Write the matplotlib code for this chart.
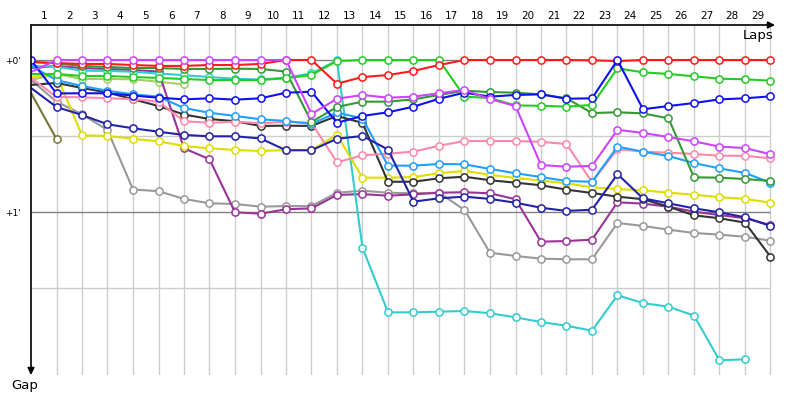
import numpy as np
import matplotlib
matplotlib.use("Agg")
import matplotlib.pyplot as plt

nan = np.nan
laps = list(range(0, 30))
lap_labels = [str(i) for i in range(1, 30)]
ytick_vals = [0, 1]
ytick_labels = ["+0'", "+1'"]

red = [0.013,0.020,0.026,0.026,0.033,0.039,0.039,0.033,0.033,0.026,0.0,0.0,0.156,0.112,0.099,0.072,0.033,0.0,0.0,0.0,0.0,0.0,0.002,0.007,0.0,0.0,0.0,0.0,0.0,0.0]
violet = [0.079,0,0,0,0,0,0,0,0,0,0,0.355,0.255,0.230,0.248,0.241,0.219,0.197,0.257,0.303,0.691,0.702,0.697,0.459,0.480,0.507,0.535,0.570,0.579,0.620]
green = [0.092,0.092,0.105,0.105,0.112,0.118,0.125,0.132,0.132,0.132,0.120,0.099,0.007,0.0,0.0,0.0,0.0,0.241,0.250,0.299,0.301,0.307,0.296,0.055,0.081,0.092,0.107,0.123,0.127,0.136]
darkgreen = [0.013,0.022,0.039,0.046,0.053,0.053,0.059,0.059,0.057,0.059,0.076,0.408,0.309,0.274,0.274,0.259,0.230,0.202,0.211,0.215,0.226,0.252,0.349,0.344,0.351,0.384,0.772,0.774,0.783,0.796]
blue = [0.0,0.220,0.219,0.219,0.234,0.248,0.259,0.252,0.261,0.252,0.215,0.209,0.413,0.368,0.344,0.307,0.255,0.215,0.241,0.230,0.226,0.255,0.252,0.0,0.324,0.303,0.283,0.259,0.252,0.239]
navy = [0.184,0.309,0.362,0.423,0.449,0.472,0.493,0.502,0.502,0.516,0.594,0.594,0.518,0.500,0.589,0.932,0.910,0.899,0.914,0.939,0.972,0.993,0.985,0.751,0.910,0.943,0.976,1.002,1.035,1.092]
cyan = [0.039,0.044,0.070,0.072,0.077,0.089,0.100,0.112,0.124,0.128,0.116,0.088,0.003,1.235,1.660,1.660,1.656,1.651,1.666,1.693,1.724,1.748,1.781,1.548,1.599,1.623,1.682,1.976,1.969,nan]
skyblue = [0.039,0.132,0.171,0.202,0.226,0.241,0.316,0.347,0.368,0.390,0.401,0.421,0.345,0.385,0.695,0.695,0.684,0.686,0.717,0.745,0.770,0.796,0.801,0.570,0.603,0.632,0.678,0.713,0.743,0.807]
pink = [0.118,0.243,0.245,0.252,0.257,0.274,0.403,0.413,0.406,0.416,0.406,0.414,0.673,0.627,0.616,0.603,0.564,0.533,0.533,0.533,0.538,0.553,0.803,0.586,0.603,0.610,0.618,0.630,0.630,0.647]
black = [0.164,0.151,0.184,0.214,0.258,0.303,0.359,0.388,0.403,0.434,0.432,0.434,0.368,0.414,0.801,0.801,0.778,0.768,0.791,0.807,0.824,0.853,0.875,0.899,0.916,0.965,1.022,1.041,1.070,1.294]
yellow = [0.112,0.099,0.495,0.500,0.518,0.535,0.566,0.581,0.592,0.599,0.592,0.592,0.493,0.774,0.774,0.770,0.745,0.730,0.755,0.776,0.793,0.811,0.838,0.849,0.857,0.873,0.886,0.903,0.913,0.939]
gray = [0.132,0.274,0.357,0.461,0.852,0.863,0.914,0.943,0.947,0.965,0.961,0.961,0.873,0.860,0.873,0.877,0.873,0.987,1.268,1.289,1.307,1.311,1.311,1.072,1.092,1.116,1.138,1.149,1.163,1.189]
purple = [0.053,0.039,0.053,0.059,0.066,0.076,0.581,0.653,1.002,1.011,0.982,0.976,0.888,0.882,0.893,0.884,0.873,0.870,0.877,0.916,1.195,1.191,1.182,0.936,0.945,0.965,0.998,1.020,1.041,1.086]
lightgreen = [0.132,0.092,0.125,0.125,0.127,0.143,0.161] + [nan] * 23
olive = [0.217,0.520] + [nan] * 28

series = [
    (olive, "#777733"),
    (lightgreen, "#aacc66"),
    (gray, "#999999"),
    (purple, "#993399"),
    (cyan, "#33cccc"),
    (yellow, "#dddd00"),
    (black, "#333333"),
    (pink, "#ff88aa"),
    (skyblue, "#1ea0ff"),
    (navy, "#2222aa"),
    (darkgreen, "#339933"),
    (green, "#22cc22"),
    (red, "#ff1a1a"),
    (blue, "#1010ee"),
    (violet, "#cc44ff"),
]

fig = plt.figure(figsize=(8, 4), dpi=100)
ax = fig.add_axes([31/800, 25/400, 744/800, 350/400])
ax.set_xlim(0, 744/25.5)
ax.set_ylim(315/152, -35/152)

# grid
ax.vlines(range(1, 30), 315/152, -35/152, color="#cccccc", lw=1, zorder=0)
ax.hlines([0.5, 1.5], 0, 29, color="#cccccc", lw=1, zorder=0)
ax.hlines([0, 1], 0, 29, color="#808080", lw=1, zorder=0)

for vals, col in series:
    y = np.array(vals, dtype=float)
    me = list(range(0, 30)) if col == "#1010ee" else list(range(1, 30))
    me = [i for i in me if not np.isnan(y[i])]
    ax.plot(laps, y, color=col, lw=1.5, marker="o", markersize=5.2,
            markerfacecolor="white", markeredgecolor=col, markeredgewidth=1.1,
            markevery=me, zorder=3)

for s in ax.spines.values():
    s.set_visible(False)

ax.xaxis.tick_top()
ax.set_xticks([i - 0.5 for i in range(1, 30)])
ax.set_xticklabels(lap_labels, fontsize=7.5)
ax.tick_params(axis="x", length=0, pad=3)
ax.set_yticks(ytick_vals)
ax.set_yticklabels(ytick_labels, fontsize=6.5)
ax.tick_params(axis="y", length=0, pad=7)

ax.annotate("", xy=(1.0, 1.0), xytext=(0, 1.0), xycoords="axes fraction",
            arrowprops=dict(arrowstyle="-|>", color="black", lw=1.2, mutation_scale=10,
                            shrinkA=0, shrinkB=0), annotation_clip=False)
ax.annotate("", xy=(0, 0.0), xytext=(0, 1.0), xycoords="axes fraction",
            arrowprops=dict(arrowstyle="-|>", color="black", lw=1.2, mutation_scale=10,
                            shrinkA=0, shrinkB=0), annotation_clip=False)

fig.text(774/800, 1 - 35/400, "Laps", ha="right", va="center", fontsize=9.5)
fig.text(24.5/800, 1 - 385/400, "Gap", ha="center", va="center", fontsize=9.5)

fig.savefig("out.png", dpi=100)
